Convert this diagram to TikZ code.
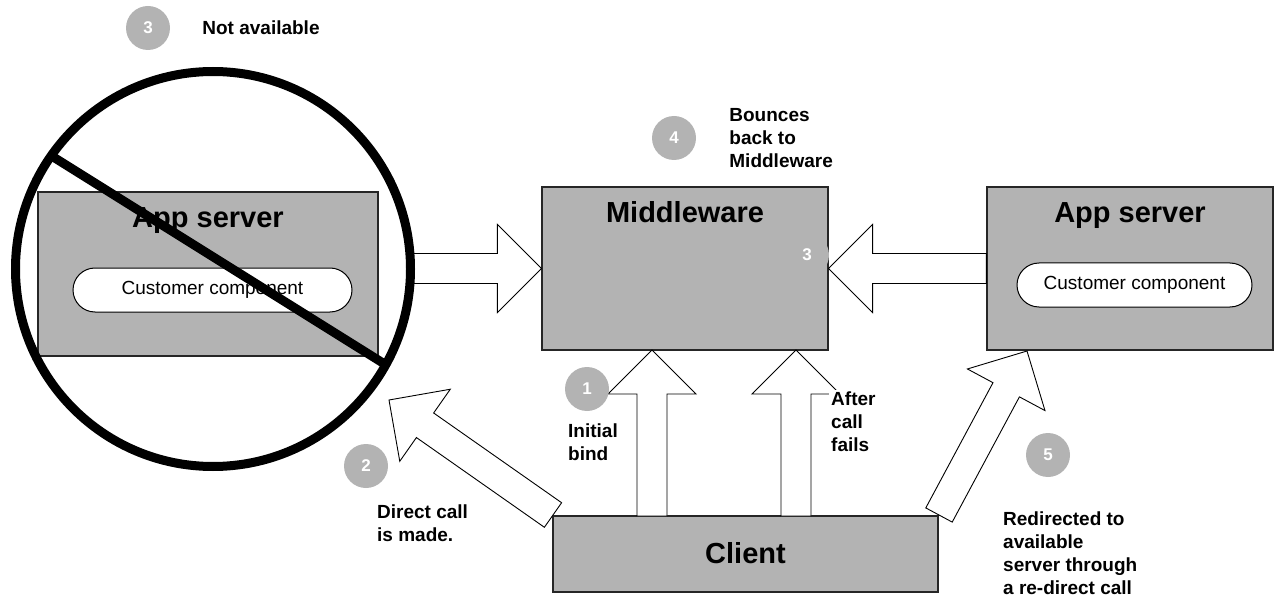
\documentclass[tikz,border=0pt]{standalone}
\usepackage{fontspec}
\setmainfont{Liberation Sans}
\usetikzlibrary{calc,positioning}
\definecolor{boxgray}{RGB}{179,179,179}
\tikzset{
    box/.style={
           rectangle,
           draw=black!85, line width=1.2pt,
           fill=boxgray,
           inner sep=0pt},
    title/.style={
           font=\fontsize{29}{34}\selectfont\bfseries,
           anchor=base},
    pill/.style={
           rectangle,
           rounded corners=22pt,
           draw=black, line width=1pt,
           fill=white,
           minimum height=44pt,
           font=\fontsize{19}{23}\selectfont},
    num/.style={
           circle,
           fill=boxgray,
           minimum size=44pt, inner sep=0pt,
           text=white,
           font=\fontsize{17}{20}\selectfont\bfseries},
    lbl/.style={
           align=left,
           fill=white,
           inner sep=2pt,
           font=\fontsize{19}{23}\selectfont\bfseries},
    % hollow block arrow
    fat/.style={
           draw=black, line width=0.9pt,
           fill=white,
           line join=miter},
    nogo/.style={
           draw=black,
           line width=9pt}
}
% block arrow from tail #1 to tip #2
\newcommand\fatarrow[2]{%
  \coordinate (fa-h) at ($(#2)!44pt!(#1)$);
  \draw[fat] ($(#1)!15pt!90:(#2)$) -- ($(fa-h)!15pt!90:(#2)$) -- ($(fa-h)!44pt!90:(#2)$)
    -- (#2) -- ($(fa-h)!44pt!-90:(#2)$) -- ($(fa-h)!15pt!-90:(#2)$) -- ($(#1)!15pt!-90:(#2)$) -- cycle;
}

\begin{document}
\begin{tikzpicture}[x=1pt, y=-1pt]
	\useasboundingbox (0,0) rectangle (1280,596);

	\node[box, minimum width=340pt, minimum height=164pt] (as1) at (208,274) {};
	\node[box, minimum width=286pt, minimum height=163pt] (mw) at (685,268.5) {};
	\node[box, minimum width=286pt, minimum height=163pt] (as2) at (1130,268.5) {};
	\node[box, minimum width=385pt, minimum height=76pt] (client) at (745.5,554) {};

	\node[title] at ([yshift=-36.4pt]as1.north) {App server};
	\node[title] at ([yshift=-36.4pt]mw.north) {Middleware};
	\node[title] at ([yshift=-36.4pt]as2.north) {App server};
	\node[title] at ([yshift=-9.4pt]client.center) {Client};

	\node[pill, minimum width=279pt] (cc1) at (212.5,290) {Customer component};
	\node[pill, minimum width=235pt] (cc2) at (1134.5,285) {Customer component};

	\node[num] (n3mw) at (807,255) {3};

	\coordinate (dn-from) at (412,268.5);
	\coordinate (bind-from) at (652,516);
	\coordinate (bind-to) at (652,350);
	\coordinate (retry-from) at (796,516);
	\coordinate (retry-to) at (796,350);
	\coordinate (direct-from) at (553,515);
	\coordinate (direct-to) at (389,400);
	\coordinate (redir-from) at (939,515);
	\coordinate (redir-to) at (1027,351);

	\fatarrow{dn-from}{mw.west}
	\fatarrow{as2.west}{mw.east}
	\fatarrow{bind-from}{bind-to}
	\fatarrow{retry-from}{retry-to}
	\fatarrow{direct-from}{direct-to}
	\fatarrow{redir-from}{redir-to}

	\node[num] (n3top) at (148,28) {3};
	\node[num] (n4) at (674,138) {4};
	\node[num] (n1) at (587,389) {1};
	\node[num] (n2) at (366,466) {2};
	\node[num] (n5) at (1048,455) {5};

	\node[lbl, right=30pt of n3top] {Not available};
	\node[lbl, right=31pt of n4] {Bounces\\back to\\Middleware};
	\node[lbl, anchor=north west] at (566,421.5) {Initial\\bind};
	\node[lbl, anchor=north west] at (829,389.5) {After\\call\\fails};
	\node[lbl, anchor=north west] at (375,502.5) {Direct call\\is made.};
	\node[lbl, anchor=north west] at (1001,509.5) {Redirected to\\available\\server through\\a re-direct call};

	% server 1 is down
	\node[nogo, circle, minimum size=395pt, inner sep=0pt, outer sep=0pt] (off) at (213,269) {};
	\draw[nogo] (off.145) -- (off.-29.5);
\end{tikzpicture}
\end{document}
